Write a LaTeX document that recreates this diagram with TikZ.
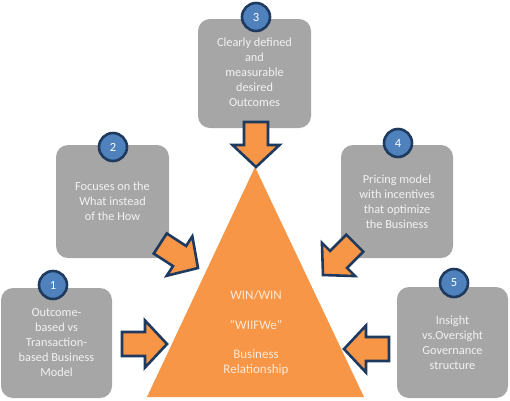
\documentclass[tikz,border=0pt]{standalone}
\usepackage{fontspec}
\setmainfont{Carlito}
\definecolor{orng}{HTML}{F79646}
\definecolor{navy}{HTML}{1F3A5F}
\definecolor{circblue}{HTML}{4F81BD}
\definecolor{boxgray}{HTML}{A6A6A6}
\definecolor{boxtext}{HTML}{F2F2F2}
\definecolor{tritext}{HTML}{FDE9D9}
\tikzset{
  box/.style={rectangle, fill=boxgray, rounded corners=12pt, text=boxtext, align=center,
    font=\fontsize{12.3}{15}\selectfont, inner sep=0pt},
  numcirc/.style={circle, fill=circblue, draw=navy, line width=2.6pt, minimum size=28pt,
    inner sep=0pt, text=white, font=\fontsize{12.5}{13}\selectfont},
  tritxt/.style={text=tritext, align=center, font=\fontsize{13}{15}\selectfont, inner sep=0pt},
  blockarrow/.pic={\filldraw[fill=orng, draw=navy, line width=2.6pt, line join=miter]
    (0,0) -- (-22,-23.5) -- (-22,-12) -- (-45,-12) -- (-45,12) -- (-22,12) -- (-22,23.5) -- cycle;}
}
\begin{document}
\begin{tikzpicture}[x=1pt,y=-1pt]
\useasboundingbox (0,0) rectangle (510,400);
% boxes
\node[box, minimum width=113pt, minimum height=109pt] (b3) at (254.5,73.5)
  {\raisebox{-3pt}{\begin{tabular}{@{}c@{}}Clearly defined\\and\\measurable\\desired\\Outcomes\end{tabular}}};
\node[box, minimum width=113pt, minimum height=113pt] (b2) at (112.5,201.5)
  {Focuses on the\\What instead\\of the How};
\node[box, minimum width=112pt, minimum height=113pt] (b4) at (397,201.5)
  {Pricing model\\with incentives\\that optimize\\the Business};
\node[box, minimum width=111pt, minimum height=110pt] (b1) at (56.5,343)
  {Outcome-\\based vs\\Transaction-\\based Business\\Model};
\node[box, minimum width=111pt, minimum height=111pt] (b5) at (452.5,342.5)
  {Insight\\vs.Oversight\\Governance\\structure};
% number circles
\node[numcirc] (c3) at (256,17) {3};
\node[numcirc] (c2) at (113,147) {2};
\node[numcirc] (c4) at (398,143) {4};
\node[numcirc] (c1) at (53,285) {1};
\node[numcirc] (c5) at (454,283) {5};
% triangle
\coordinate (apex) at (255,167);
\coordinate (bl) at (147,397);
\coordinate (br) at (364,397);
\fill[orng] (apex) -- (br) -- (bl) -- cycle;
\node[tritxt] (t1) at (256,295) {WIN/WIN};
\node[tritxt] (t2) at (256,325) {“WIIFWe”};
\node[tritxt] (t3) at (256,362.5) {Business\\Relationship};
% block arrows
\pic[rotate=-90] at (256,167) {blockarrow};
\pic[rotate=-33] at (198,268) {blockarrow};
\pic[rotate=-135] at (323,275) {blockarrow};
\pic at (167,344) {blockarrow};
\pic[rotate=180] at (344,349) {blockarrow};
\end{tikzpicture}
\end{document}
